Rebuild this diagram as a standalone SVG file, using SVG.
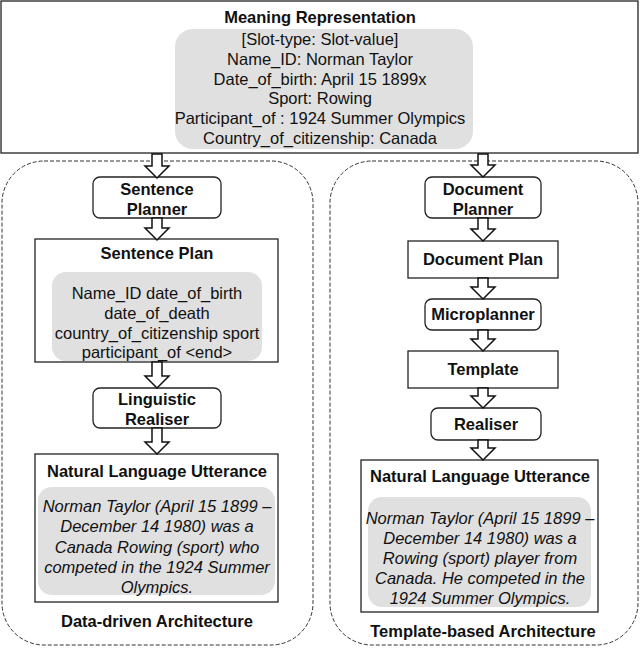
<svg xmlns="http://www.w3.org/2000/svg" width="640" height="650" viewBox="0 0 640 650">
<style>
text{font-family:"Liberation Sans",Arial,sans-serif;font-size:16.5px;fill:#111;text-anchor:middle}
.b{font-weight:bold}
.i{font-style:italic}
.box{fill:#fff;stroke:#222;stroke-width:1.3}
.gray{fill:#e0e0e0;stroke:none}
.dash{fill:none;stroke:#333;stroke-width:1;stroke-dasharray:4 2}
.arr{fill:#fff;stroke:#111;stroke-width:1.5;stroke-linejoin:miter}
</style>
<rect width="640" height="650" fill="#fff"/>
<g id="containers">
<rect class="dash" x="2" y="161" width="311" height="484" rx="42"/>
<rect class="dash" x="330" y="161" width="308" height="484" rx="42"/>
</g>
<g id="meaning-representation">
<rect class="box" x="1" y="1" width="637" height="152"/>
<rect class="gray" x="175" y="29" width="298" height="120" rx="18"/>
<text class="b" x="320" y="23">Meaning Representation</text>
<text x="320" y="45">[Slot-type: Slot-value]</text>
<text x="320" y="65">Name_ID: Norman Taylor</text>
<text x="320" y="85">Date_of_birth: April 15 1899x</text>
<text x="320" y="104">Sport: Rowing</text>
<text x="320" y="124">Participant_of : 1924 Summer Olympics</text>
<text x="320" y="144">Country_of_citizenship: Canada</text>
</g>
<g id="sentence-planner">
<rect class="box" x="93" y="177" width="128" height="41" rx="7"/>
<text class="b" x="157" y="195">Sentence</text>
<text class="b" x="157" y="215">Planner</text>
</g>
<g id="sentence-plan">
<rect class="box" x="35" y="239" width="243" height="123"/>
<text class="b" x="157" y="259">Sentence Plan</text>
<rect class="gray" x="52" y="272" width="210" height="89" rx="14"/>
<text x="157" y="299">Name_ID date_of_birth</text>
<text x="157" y="319">date_of_death</text>
<text x="157" y="339">country_of_citizenship sport</text>
<text x="157" y="358">participant_of &lt;end&gt;</text>
</g>
<g id="linguistic-realiser">
<rect class="box" x="93" y="388" width="128" height="40" rx="7"/>
<text class="b" x="157" y="405">Linguistic</text>
<text class="b" x="157" y="425">Realiser</text>
</g>
<g id="nlu-left">
<rect class="box" x="35" y="454" width="243" height="148"/>
<text class="b" x="157" y="477">Natural Language Utterance</text>
<rect class="gray" x="38" y="487" width="237" height="108" rx="14"/>
<text class="i" x="157" y="512">Norman Taylor (April 15 1899 –</text>
<text class="i" x="157" y="532">December 14 1980) was a</text>
<text class="i" x="157" y="553">Canada Rowing (sport) who</text>
<text class="i" x="157" y="573">competed in the 1924 Summer</text>
<text class="i" x="157" y="593">Olympics.</text>
</g>
<g id="label-left">
<text class="b" x="157" y="627">Data-driven Architecture</text>
</g>
<g id="document-planner">
<rect class="box" x="425" y="177" width="116" height="41" rx="7"/>
<text class="b" x="483" y="195">Document</text>
<text class="b" x="483" y="215">Planner</text>
</g>
<g id="document-plan">
<rect class="box" x="408" y="241" width="150" height="37"/>
<text class="b" x="483" y="265">Document Plan</text>
</g>
<g id="microplanner">
<rect class="box" x="425" y="299" width="116" height="31" rx="7"/>
<text class="b" x="483" y="320">Microplanner</text>
</g>
<g id="template">
<rect class="box" x="408" y="351" width="150" height="37"/>
<text class="b" x="483" y="375">Template</text>
</g>
<g id="realiser">
<rect class="box" x="431" y="408" width="110" height="32" rx="7"/>
<text class="b" x="486" y="430">Realiser</text>
</g>
<g id="nlu-right">
<rect class="box" x="361" y="460" width="237" height="152"/>
<text class="b" x="480" y="482">Natural Language Utterance</text>
<rect class="gray" x="368" y="497" width="223" height="110" rx="14"/>
<text class="i" x="480" y="524">Norman Taylor (April 15 1899 –</text>
<text class="i" x="480" y="544">December 14 1980) was a</text>
<text class="i" x="480" y="564">Rowing (sport) player from</text>
<text class="i" x="480" y="584">Canada. He competed in the</text>
<text class="i" x="480" y="604">1924 Summer Olympics.</text>
</g>
<g id="label-right">
<text class="b" x="483" y="637">Template-based Architecture</text>
</g>
<g id="connectors">
<path class="arr" d="M152,154 H162 V166 H169 L157,178 L145,166 H152 Z"/>
<path class="arr" d="M152,218 H162 V228 H169 L157,240 L145,228 H152 Z"/>
<path class="arr" d="M152,362 H162 V376 H169 L157,388 L145,376 H152 Z"/>
<path class="arr" d="M152,428 H162 V442 H169 L157,454 L145,442 H152 Z"/>
<path class="arr" d="M478,154 H488 V165 H495 L483,177 L471,165 H478 Z"/>
<path class="arr" d="M478,218 H488 V229 H495 L483,241 L471,229 H478 Z"/>
<path class="arr" d="M478,278 H488 V287 H495 L483,299 L471,287 H478 Z"/>
<path class="arr" d="M478,330 H488 V339 H495 L483,351 L471,339 H478 Z"/>
<path class="arr" d="M478,388 H488 V396 H495 L483,408 L471,396 H478 Z"/>
<path class="arr" d="M478,440 H488 V448 H495 L483,460 L471,448 H478 Z"/>
</g>
</svg>
